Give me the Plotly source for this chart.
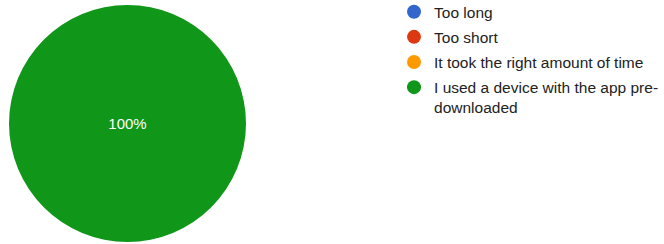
import plotly.graph_objects as go

labels = ["Too long", "Too short", "It took the right amount of time",
          "I used a device with the app pre-downloaded"]
legend_names = ["Too long", "Too short", "It took the right amount of time",
                "I used a device with the app pre-<br>downloaded"]
values = [0, 0, 0, 100]
colors = ["#3366cc", "#dc3912", "#ff9900", "#109618"]

fig = go.Figure()
fig.add_trace(go.Pie(
    labels=labels, values=values, marker=dict(colors=colors, line=dict(width=0)),
    sort=False, direction="clockwise", textinfo="percent", texttemplate="%{percent:.0%}",
    textposition="inside", insidetextorientation="horizontal",
    textfont=dict(color="white", size=15, family="Arial, Liberation Sans"),
    showlegend=False, hoverinfo="label+percent",
    domain=dict(x=[0.01355, 0.3705], y=[0.0082, 0.9795]),
))
for i, (name, c) in enumerate(zip(legend_names, colors)):
    fig.add_trace(go.Scatter(x=[None], y=[None], mode="markers", name=name,
                             legendgroup=f"g{i}",
                             marker=dict(color=c, size=14, symbol="circle")))

fig.update_layout(
    width=664, height=244, margin=dict(l=0, r=0, t=0, b=0, autoexpand=False),
    paper_bgcolor="white", plot_bgcolor="white",
    xaxis=dict(visible=False), yaxis=dict(visible=False),
    legend=dict(x=0.5934, y=1.02, xanchor="left", yanchor="top", valign="top",
                font=dict(family="Arial, Liberation Sans", size=15.5, color="#222222"),
                tracegroupgap=2, itemwidth=30),
)
fig.write_html("out.html", config={"displayModeBar": False},
               post_script="document.body.style.margin='0';")
